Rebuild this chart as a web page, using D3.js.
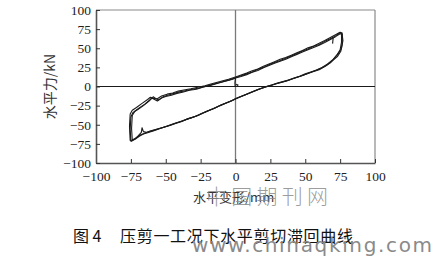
<!DOCTYPE html>
<html>
<head>
<meta charset="utf-8">
<script src="https://cdn.jsdelivr.net/npm/d3@7"></script>
<style>
  html, body { margin: 0; padding: 0; background: #fff; }
  svg { display: block; }
  .tk text { font-family: "Liberation Serif", "DejaVu Serif", serif; font-size: 13.5px; fill: #222; }
  .tk line { stroke: #333; }
</style>
</head>
<body>
<div id="chart"></div>
<script>
// ---- data ----
var xTicks = [-100, -75, -50, -25, 0, 25, 50, 75, 100];
var yTicks = [-100, -75, -50, -25, 0, 25, 50, 75, 100];

// [displacement mm, force kN] — loading branch then unloading branch, per cycle
var upperA = [[-75,-72],[-75.5,-56],[-75,-40],[-73.5,-34],[-70,-30],[-66,-25],[-62,-19],[-60,-15],[-58,-17],[-56,-19],[-53,-15],[-50,-13],[-46,-11.5],[-42,-9],[-38,-7.5],[-33,-5],[-28,-3.5],[-23,-0.5],[-18,1.5],[-12,4.5],[-6,7.5],[-2,9.5],[0,11],[4,13],[8,15.5],[12,18.5],[16,21],[20,24.5],[24,27.5],[28,30.5],[32,33],[36,35.5],[40,39],[44,42],[48,45],[52,48],[56,51],[60,54],[64,57.5],[68,61.5],[72,65.5],[75,69],[76.5,68]];
var lowerA = [[76.5,68],[77,60],[76,50],[74,44],[71,37],[68,31],[64,26],[60,22],[56,19.5],[52,17],[48,14.5],[44,12],[40,9.5],[36,7],[32,5],[28,3],[24,1],[20,-1.5],[16,-4],[12,-7],[8,-10],[4,-13],[0,-16],[-4,-19.5],[-8,-22.5],[-12,-25.5],[-16,-29],[-20,-32],[-24,-35],[-28,-38.5],[-32,-41],[-36,-43.5],[-40,-46],[-44,-48.5],[-48,-51],[-52,-53.5],[-56,-55.5],[-60,-57.5],[-64,-60],[-66,-59],[-67,-54],[-67.5,-60],[-70,-65],[-73,-70],[-75,-72]];
var upperB = [[-74,-70],[-74.5,-55],[-74,-38],[-72,-32],[-69,-28],[-65,-23],[-61,-17],[-59,-13.5],[-57,-16],[-55,-17.5],[-52,-13.5],[-48,-11],[-44,-9],[-40,-7],[-36,-5.5],[-31,-3.5],[-26,-2],[-21,0.5],[-16,3],[-10,6],[-4,9],[0,11.5],[4,14],[8,16.5],[12,19],[16,22.5],[20,25],[24,28.5],[28,31.5],[32,34],[36,37],[40,40],[44,43],[48,46.5],[52,49],[56,52.5],[60,55],[64,59],[68,62.5],[72,66.5],[74.5,70],[76,69.5]];
var lowerB = [[76,69.5],[76,58],[75,48],[73,42],[70,35.5],[66,29.5],[62,25],[58,21.5],[54,19],[50,16.5],[46,13.5],[42,11],[38,8.5],[34,6.5],[30,4.5],[26,2],[22,0],[18,-2.5],[14,-5.5],[10,-8.5],[6,-11.5],[2,-14.5],[-2,-18],[-6,-21],[-10,-24],[-14,-27.5],[-18,-30.5],[-22,-33.5],[-26,-37],[-30,-40],[-34,-42],[-38,-45],[-42,-47.5],[-46,-50],[-50,-52.5],[-54,-54.5],[-58,-57],[-62,-59],[-65,-61],[-68,-63],[-71,-67],[-74,-70]];
var upperC = [[-75.5,-71],[-76,-52],[-75.5,-36],[-74,-31],[-71,-27.5],[-67,-22],[-63,-17],[-61,-14],[-59,-15.5],[-56,-16],[-53,-12.5],[-49,-10],[-45,-8.5],[-41,-6],[-37,-4.5],[-32,-3],[-27,-1],[-22,1],[-17,3.5],[-11,6.5],[-5,9.5],[0,12.5],[4,15],[8,17.5],[12,20.5],[16,23],[20,26.5],[24,29.5],[28,32.5],[32,35.5],[36,38],[40,41],[44,44],[48,47],[52,50.5],[56,53],[60,56.5],[64,60],[68,64],[72,68],[75,71],[76.5,70]];
var lowerC = [[76.5,70],[76.5,56],[75.5,46],[73,39],[69,33],[65,27.5],[61,23.5],[57,20.5],[53,18],[49,15],[45,12.5],[41,10],[37,7.5],[33,5.5],[29,3.5],[25,1],[21,-1],[17,-3.5],[13,-6.5],[9,-9.5],[5,-12.5],[1,-15.5],[-3,-19],[-7,-22],[-11,-25],[-15,-28.5],[-19,-31.5],[-23,-34.5],[-27,-38],[-31,-40.5],[-35,-43],[-39,-46],[-43,-48.5],[-47,-51],[-51,-53],[-55,-55.5],[-59,-58],[-63,-60.5],[-66,-62],[-69,-65],[-72,-69],[-75.5,-71]];
// small hook at the origin and stub near the peak
var hookZero = [[0,11],[-0.4,5],[-0.3,0.5],[1.2,0.3],[1.8,2],[0.4,3]];
var stubPeak = [[70,63.5],[69.6,56]];

var cycles = [upperA.concat(lowerA), upperB.concat(lowerB), upperC.concat(lowerC), hookZero, stubPeak];

// ---- layout ----
var W = 434, H = 256;
var m = { left: 96, top: 10, right: 59, bottom: 93 };
var iw = W - m.left - m.right, ih = H - m.top - m.bottom;

var svg = d3.select("#chart").append("svg")
  .attr("width", W).attr("height", H)
  .attr("viewBox", "0 0 " + W + " " + H);

var x = d3.scaleLinear().domain([-100, 100]).range([m.left, m.left + iw]);
var y = d3.scaleLinear().domain([-100, 100]).range([m.top + ih, m.top]);

var fmt = function (d) { return d < 0 ? "\u2212" + Math.abs(d) : String(d); };

// frame: top/right lighter grey
svg.append("line").attr("x1", x(-100)).attr("x2", x(100)).attr("y1", y(100)).attr("y2", y(100))
  .attr("stroke", "#8a8a8a").attr("stroke-width", 1.2);
svg.append("line").attr("x1", x(100)).attr("x2", x(100)).attr("y1", y(100)).attr("y2", y(-100))
  .attr("stroke", "#8a8a8a").attr("stroke-width", 1.2);

// zero lines
svg.append("line").attr("x1", x(0)).attr("x2", x(0)).attr("y1", y(100)).attr("y2", y(-100))
  .attr("stroke", "#7a7a7a").attr("stroke-width", 1.3);
svg.append("line").attr("x1", x(-100)).attr("x2", x(100)).attr("y1", y(0)).attr("y2", y(0))
  .attr("stroke", "#1a1a1a").attr("stroke-width", 1.1);

// axes, ticks pointing inward
var ax = svg.append("g").attr("class", "tk").attr("transform", "translate(0," + y(-100) + ")")
  .call(d3.axisBottom(x).tickValues(xTicks).tickFormat(fmt).tickSize(-4).tickSizeOuter(0).tickPadding(8));
var ay = svg.append("g").attr("class", "tk").attr("transform", "translate(" + x(-100) + ",0)")
  .call(d3.axisLeft(y).tickValues(yTicks).tickFormat(fmt).tickSize(-4).tickSizeOuter(0).tickPadding(5));
ax.select(".domain").attr("stroke", "#555").attr("stroke-width", 1.6);
ay.select(".domain").attr("stroke", "#555").attr("stroke-width", 1.6);
ax.selectAll(".tick line").attr("stroke", "#555");
ay.selectAll(".tick line").attr("stroke", "#555");

// hysteresis loops
var line = d3.line().x(function (d) { return x(d[0]); }).y(function (d) { return y(d[1]); });
svg.append("g").selectAll("path").data(cycles).enter().append("path")
  .attr("d", line)
  .attr("fill", "none").attr("stroke", "#1b1b1b").attr("stroke-width", 1.1)
  .attr("stroke-linejoin", "round");

// axis titles
svg.append("text")
  .attr("transform", "translate(55," + y(0) + ") rotate(-90)")
  .attr("text-anchor", "middle")
  .attr("font-family", "'Noto Sans CJK SC', sans-serif").attr("font-size", 14).attr("fill", "#333")
  .text("水平力/kN");
svg.append("text")
  .attr("x", 193).attr("y", 202)
  .attr("font-family", "'Noto Sans CJK SC', sans-serif").attr("font-size", 13).attr("fill", "#333")
  .text("水平变形/mm");

// watermark over the x title
svg.append("text")
  .attr("x", 206).attr("y", 204)
  .attr("font-family", "'Noto Sans CJK SC', sans-serif").attr("font-size", 21).attr("font-weight", 300)
  .attr("fill", "#8c8c8c").attr("fill-opacity", 0.85)
  .attr("textLength", 122).attr("lengthAdjust", "spacing")
  .text("中国期刊网");

// caption
svg.append("text")
  .attr("x", 73).attr("y", 242)
  .attr("font-family", "'Noto Sans CJK SC', sans-serif").attr("font-size", 16).attr("fill", "#111")
  .text("图 4");
svg.append("text")
  .attr("x", 120).attr("y", 242)
  .attr("font-family", "'Noto Sans CJK SC', sans-serif").attr("font-size", 16).attr("fill", "#111")
  .attr("textLength", 233).attr("lengthAdjust", "spacing")
  .text("压剪一工况下水平剪切滞回曲线");

// site watermark
svg.append("text")
  .attr("x", 192).attr("y", 252)
  .attr("font-family", "'DejaVu Sans', sans-serif").attr("font-size", 20)
  .attr("fill", "#8a8a8a")
  .attr("textLength", 240).attr("lengthAdjust", "spacing")
  .text("www.chinaqking.com");
</script>
</body>
</html>
